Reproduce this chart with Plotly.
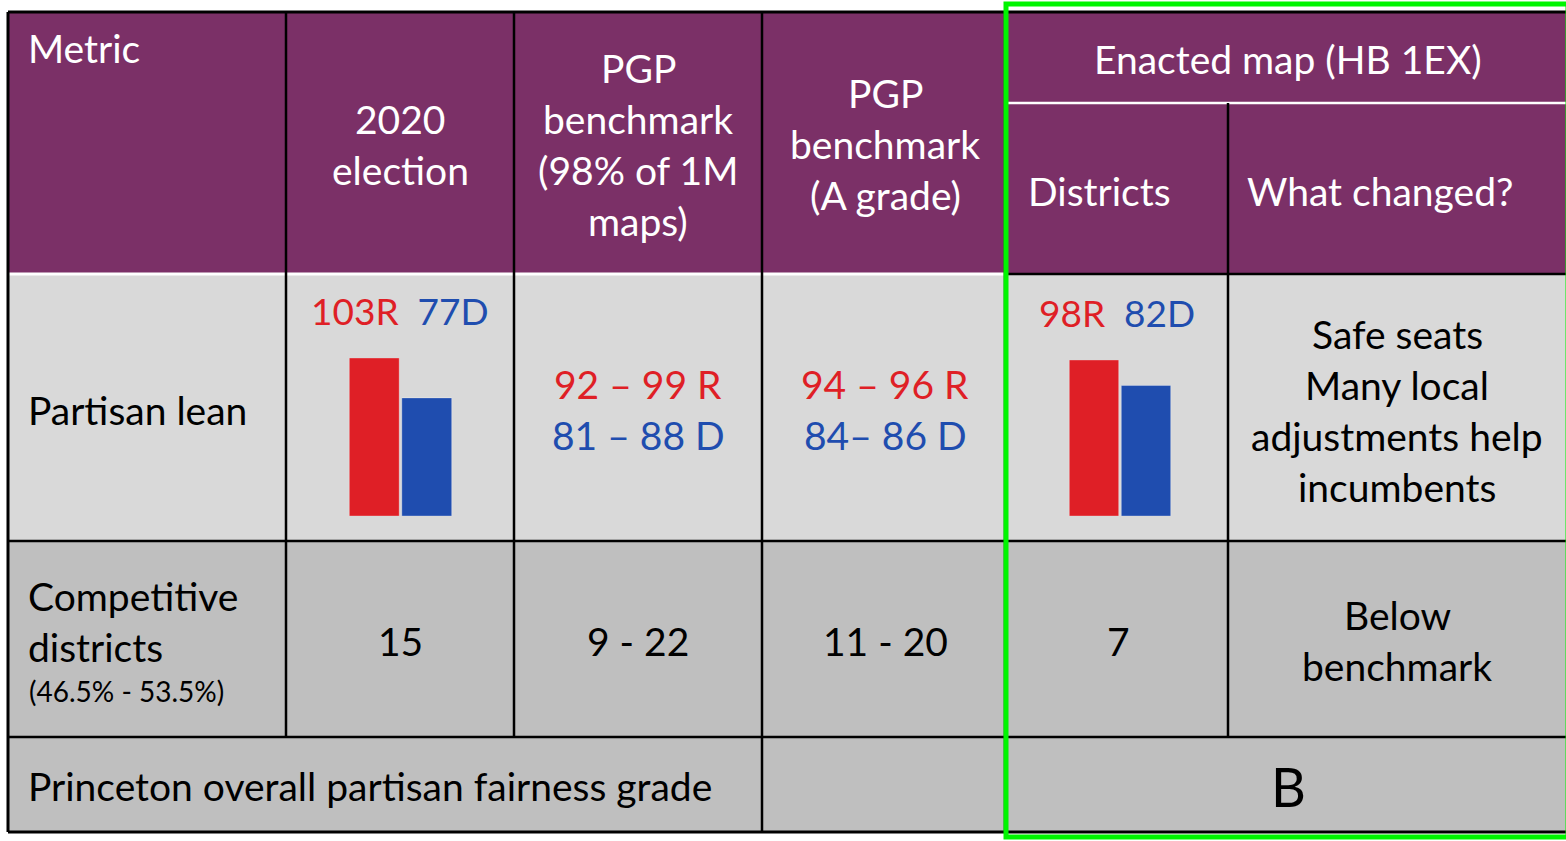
import plotly.graph_objects as go

# ---- data ----
bar_cells = ["2020 election", "Enacted map (HB 1EX)"]
r_seats = [103, 98]
d_seats = [77, 82]

r_ranges = ["92 – 99 R", "94 – 96 R"]
d_ranges = ["81 – 88 D", "84– 86 D"]

competitive = ["15", "9 - 22", "11 - 20", "7"]
grade = "B"

header_2020 = ["2020", "election"]
header_pgp98 = ["PGP", "benchmark", "(98% of 1M", "maps)"]
header_pgpa = ["PGP", "benchmark", "(A grade)"]
header_enacted = "Enacted map (HB 1EX)"
sub_headers = ["Districts", "What changed?"]

row_lean = "Partisan lean"
row_comp = ["Competitive", "districts"]
row_comp_note = "(46.5% - 53.5%)"
row_grade = "Princeton overall partisan fairness grade"

changed_lean = ["Safe seats", "Many local", "adjustments help", "incumbents"]
changed_comp = ["Below", "benchmark"]

# ---- style ----
W, H = 1566, 841
PURPLE = "#7B3067"
LIGHT = "#D9D9D9"
GREY = "#BFBFBF"
RED = "#DF1F26"
BLUE = "#1F4DAF"
GREEN = "#00F500"
FONT = "Lato"
FS = 39
PITCH = 51

fig = go.Figure()

shapes = []


def rect(x0, y0, x1, y1, fill):
    shapes.append(dict(type="rect", xref="x", yref="y", x0=x0, y0=y0, x1=x1, y1=y1,
                       fillcolor=fill, line=dict(width=0), layer="below"))


def line(x0, y0, x1, y1, color="black", width=2.5):
    shapes.append(dict(type="line", xref="x", yref="y", x0=x0, y0=y0, x1=x1, y1=y1,
                       line=dict(color=color, width=width), layer="below"))


# cell backgrounds
rect(8, 12, W, 274, PURPLE)
rect(8, 274, W, 541, LIGHT)
rect(8, 541, W, 737, GREY)
rect(8, 737, W, 832, GREY)

# white rules in header
line(8, 274, 1005, 274, "white", 3)
line(1008, 103, W, 103, "white", 2.5)

# black grid
line(8, 12, W, 12, width=3)
line(8, 832, W, 832, width=3)
line(8, 12, 8, 832, width=3)
line(1005, 274, W, 274)
line(8, 541, W, 541)
line(8, 737, W, 737)
for x in (286, 514):
    line(x, 12, x, 737)
line(762, 12, 762, 832)
line(1005, 12, 1005, 832)
line(1228, 103, 1228, 737)

# green highlight
shapes.append(dict(type="rect", xref="x", yref="y", x0=1006, y0=4, x1=1568, y1=837,
                   line=dict(color=GREEN, width=5), fillcolor="rgba(0,0,0,0)", layer="above"))

annotations = []


def text(x, y, s, color="black", size=FS, anchor="center"):
    annotations.append(dict(x=x, y=y, xref="x", yref="y", text=s, showarrow=False,
                            xanchor=anchor, yanchor="middle",
                            font=dict(family=FONT, size=size, color=color)))


def block(x, yc, lines, color="black", anchor="center"):
    y0 = yc - PITCH * (len(lines) - 1) / 2
    for i, s in enumerate(lines):
        text(x, y0 + i * PITCH, s, color, anchor=anchor)


# header
text(26, 48, "Metric", "white", anchor="left")
block(400, 144, header_2020, "white")
block(638, 144, header_pgp98, "white")
block(885, 144, header_pgpa, "white")
text(1288, 59, header_enacted, "white")
text(1026, 191, sub_headers[0], "white", anchor="left")
text(1245, 191, sub_headers[1], "white", anchor="left")

# row: partisan lean
text(26, 410, row_lean, anchor="left")
for xc, yc, r, d in ((400, 310, r_seats[0], d_seats[0]), (1117, 312, r_seats[1], d_seats[1])):
    text(xc, yc, f"<span style='color:{RED}'>{r}R</span>\u00a0 "
                 f"<span style='color:{BLUE}'>{d}D</span>", size=37)
for xc, rr, dd in zip((638, 885), r_ranges, d_ranges):
    text(xc, 384, rr, RED)
    text(xc, 435, dd, BLUE)
block(1397, 410, changed_lean)

# row: competitive districts
block(26, 621, row_comp, anchor="left")
text(27, 691, row_comp_note, size=28, anchor="left")
for xc, v in zip((400, 638, 885, 1118), competitive):
    text(xc, 641, v)
block(1397, 640, changed_comp)

# row: grade
text(26, 786, row_grade, anchor="left")
text(1288, 786, grade, size=54)

# ---- bar insets ----
insets = [(348, 453, 358, 516), (1068, 1172, 360, 516)]
for i, (x0, x1, ytop, ybot) in enumerate(insets):
    ax = i + 2
    fig.add_trace(go.Bar(
        x=["R", "D"], y=[r_seats[i], d_seats[i]],
        marker=dict(color=[RED, BLUE], line=dict(color="rgba(255,255,255,0.3)", width=1)),
        xaxis=f"x{ax}", yaxis=f"y{ax}", showlegend=False, hoverinfo="skip",
    ))
    fig.layout[f"xaxis{ax}"] = dict(domain=[x0 / W, x1 / W], visible=False, anchor=f"y{ax}")
    fig.layout[f"yaxis{ax}"] = dict(domain=[(H - ybot) / H, (H - ytop) / H], visible=False,
                                    range=[0, max(r_seats[i], d_seats[i])], anchor=f"x{ax}")

fig.update_layout(
    width=W, height=H,
    margin=dict(l=0, r=0, t=0, b=0),
    paper_bgcolor="white", plot_bgcolor="rgba(0,0,0,0)",
    xaxis=dict(range=[0, W], visible=False, domain=[0, 1]),
    yaxis=dict(range=[H, 0], visible=False, domain=[0, 1]),
    bargap=0.05,
    shapes=shapes,
    annotations=annotations,
)

# the page's default 8px body margin would shift the table off the window
fig.write_html("out.html", config={"displayModeBar": False},
               post_script="document.body.style.margin='0px';")
